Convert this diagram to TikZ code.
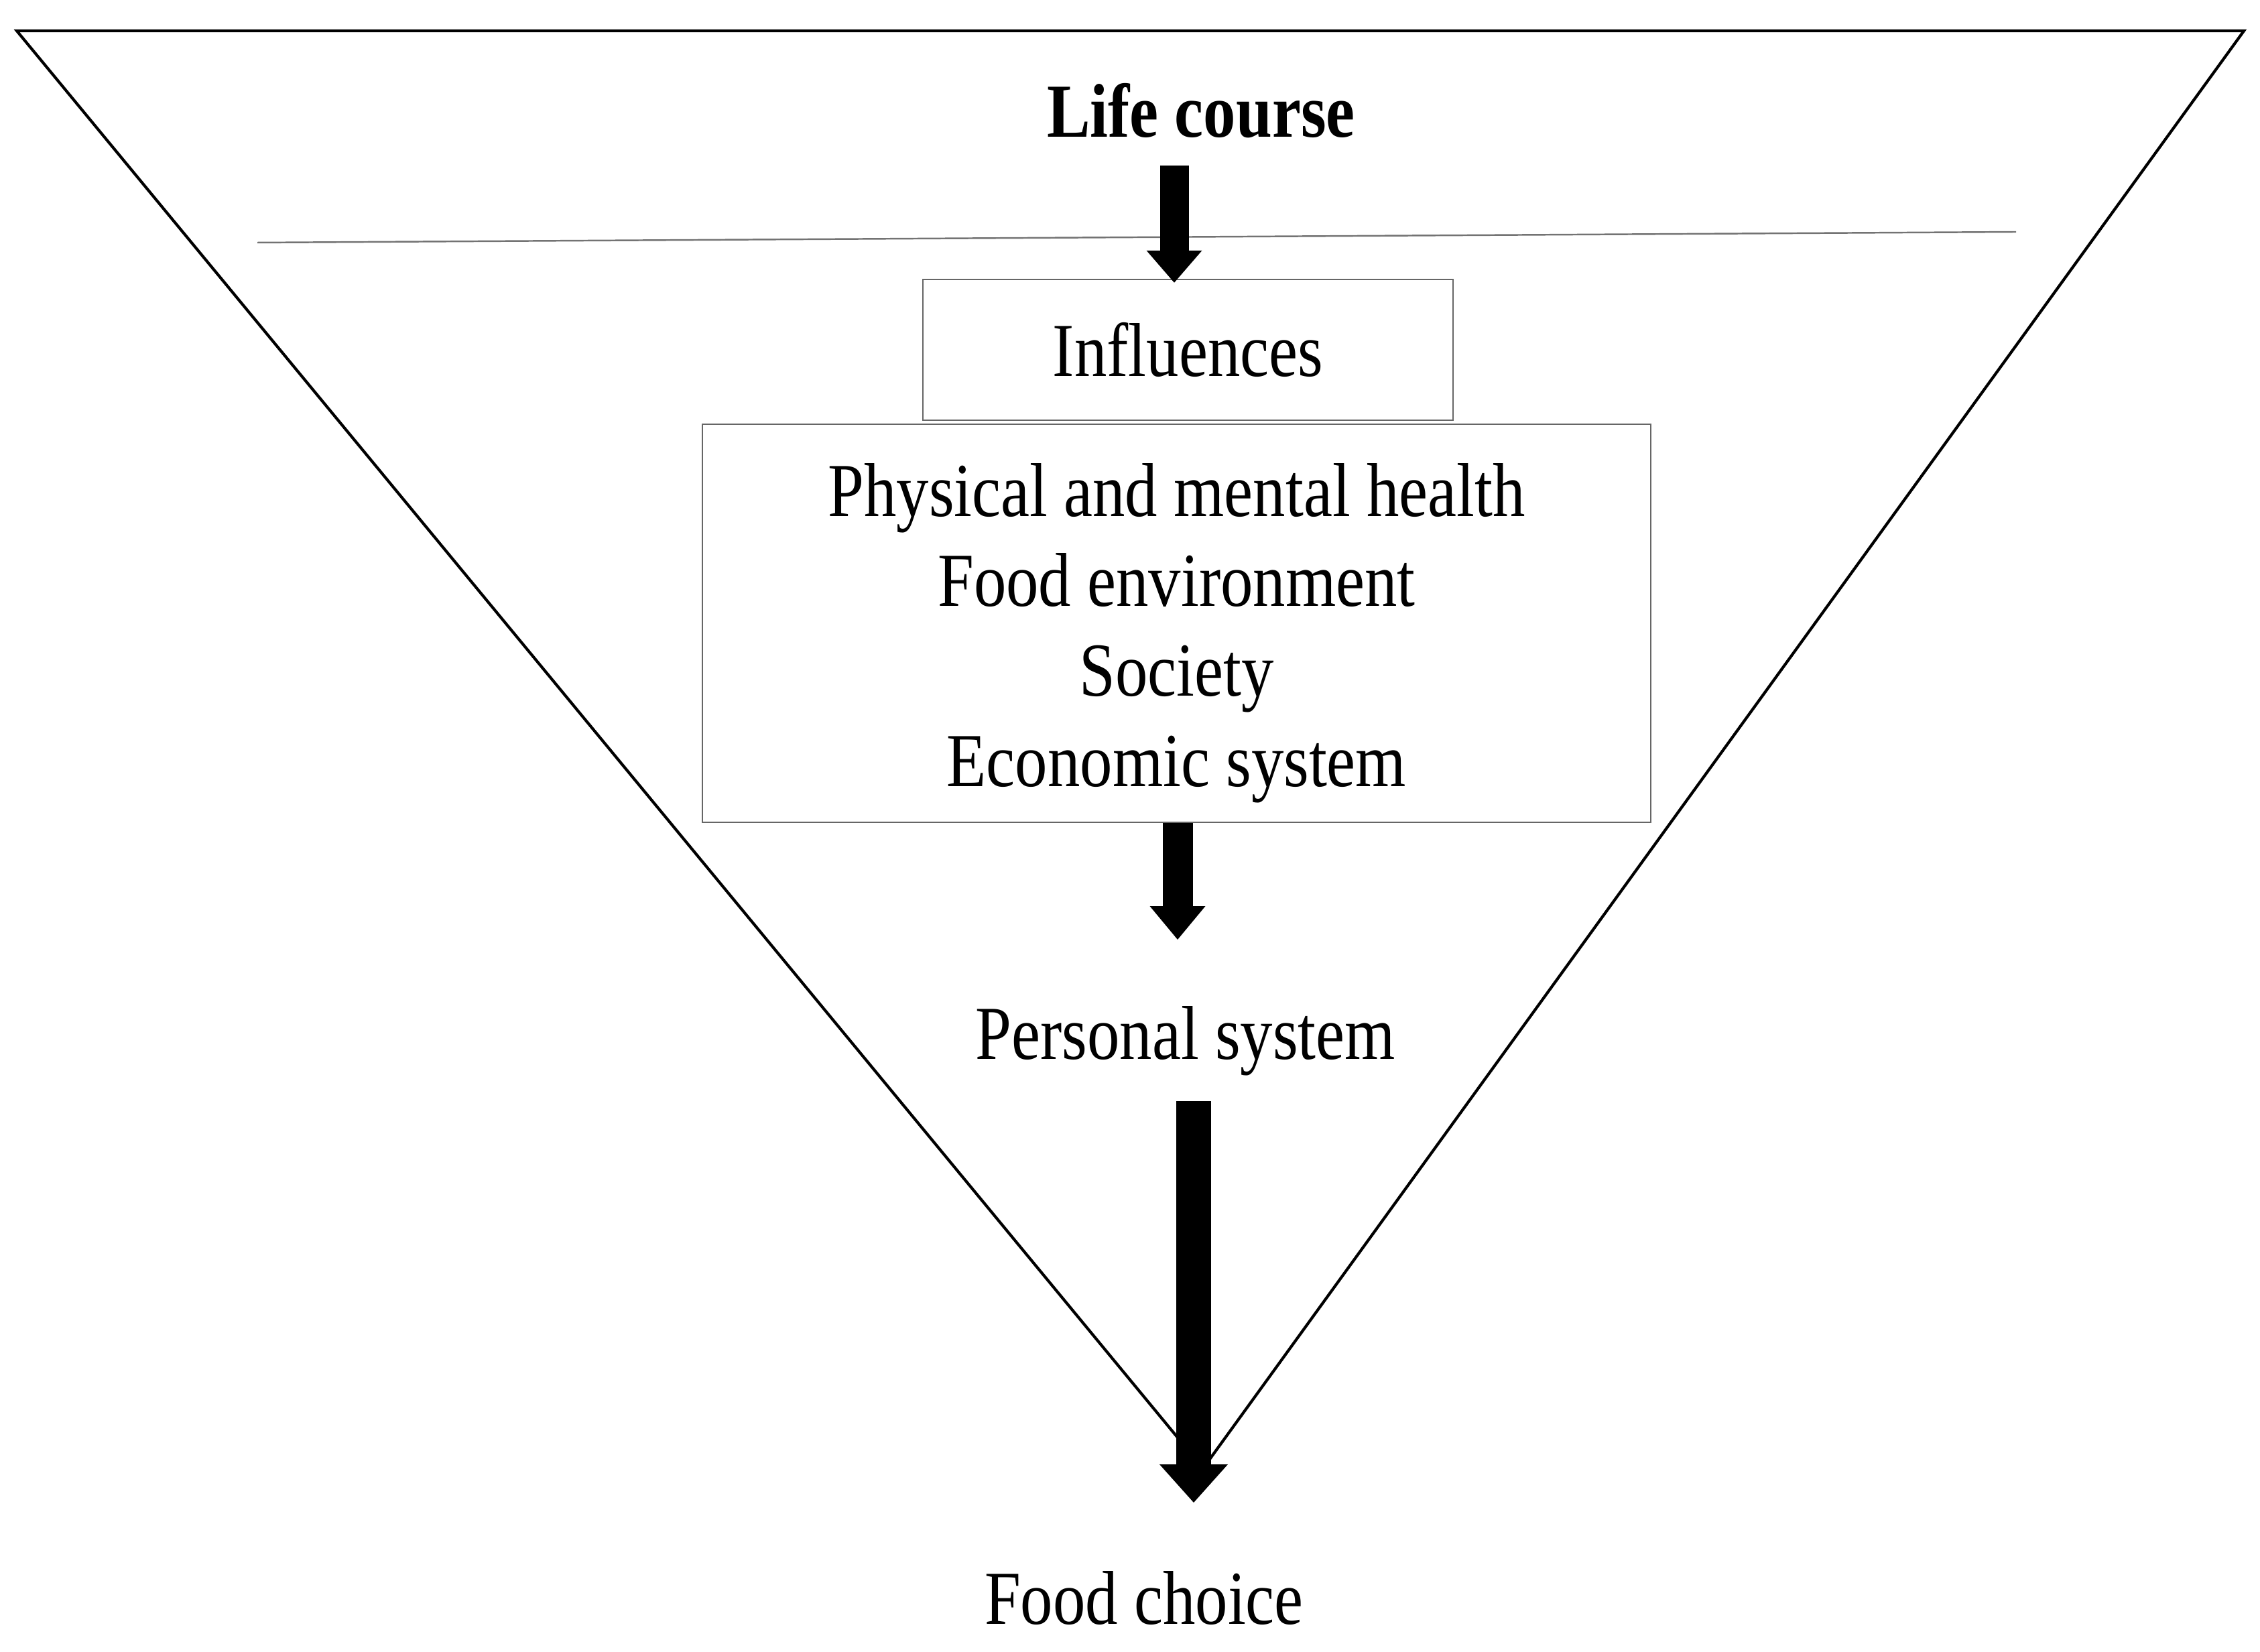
\documentclass[tikz,border=0pt]{standalone}
\usepackage{fontspec}
\setmainfont{Liberation Serif}[FakeStretch=0.85]
\usetikzlibrary{arrows.meta}

\begin{document}
\begin{tikzpicture}[
  lbl/.style={font=\fontsize{16.2}{19.1}\selectfont, inner sep=0pt},
  box/.style={lbl, draw=black!60, line width=0.35pt, align=center},
  flow/.style n args={3}{line width=#1, -{Triangle[width=#2, length=#3, line width=0pt]}}
]
\useasboundingbox (0,0) rectangle (16.86,12.32);

% funnel
\coordinate (tl) at (0.125,12.09);
\coordinate (tr) at (16.74,12.09);
\coordinate (apex) at (8.975,1.365);
\draw[line width=0.6pt] (tl) -- (tr) -- (apex) -- cycle;

\coordinate (divl) at (1.92,10.51);
\coordinate (divr) at (15.04,10.59);
\draw[black!55, line width=0.35pt] (divl) -- (divr);

\node[lbl, anchor=base] (life) at (8.96,11.295) {\textbf{Life course}};

\node[box, minimum width=3.955cm, minimum height=1.05cm] (infl) at (8.8625,9.71) {Influences};
\node[box, minimum width=7.075cm, minimum height=2.97cm] (facts) at (8.7775,7.67)
  {\rule{0pt}{0.54cm}Physical and mental health\\Food environment\\Society\\Economic system};

\node[lbl, anchor=base] (personal) at (8.845,4.42) {Personal system};
\node[lbl, anchor=base] (choice) at (8.535,0.205) {Food choice};

\coordinate (a1) at (8.76,11.085);
\coordinate (a2) at (8.785,5.31);
\coordinate (a3top) at (8.905,4.105);
\coordinate (a3tip) at (8.905,1.11);

\draw[flow={0.215cm}{0.415cm}{0.24cm}] (a1) -- ([yshift=-0.03cm]a1 |- infl.north);
\draw[flow={0.225cm}{0.415cm}{0.25cm}] (a2 |- facts.south) -- (a2);
\draw[flow={0.26cm}{0.51cm}{0.285cm}] (a3top) -- (a3tip);
\end{tikzpicture}
\end{document}
